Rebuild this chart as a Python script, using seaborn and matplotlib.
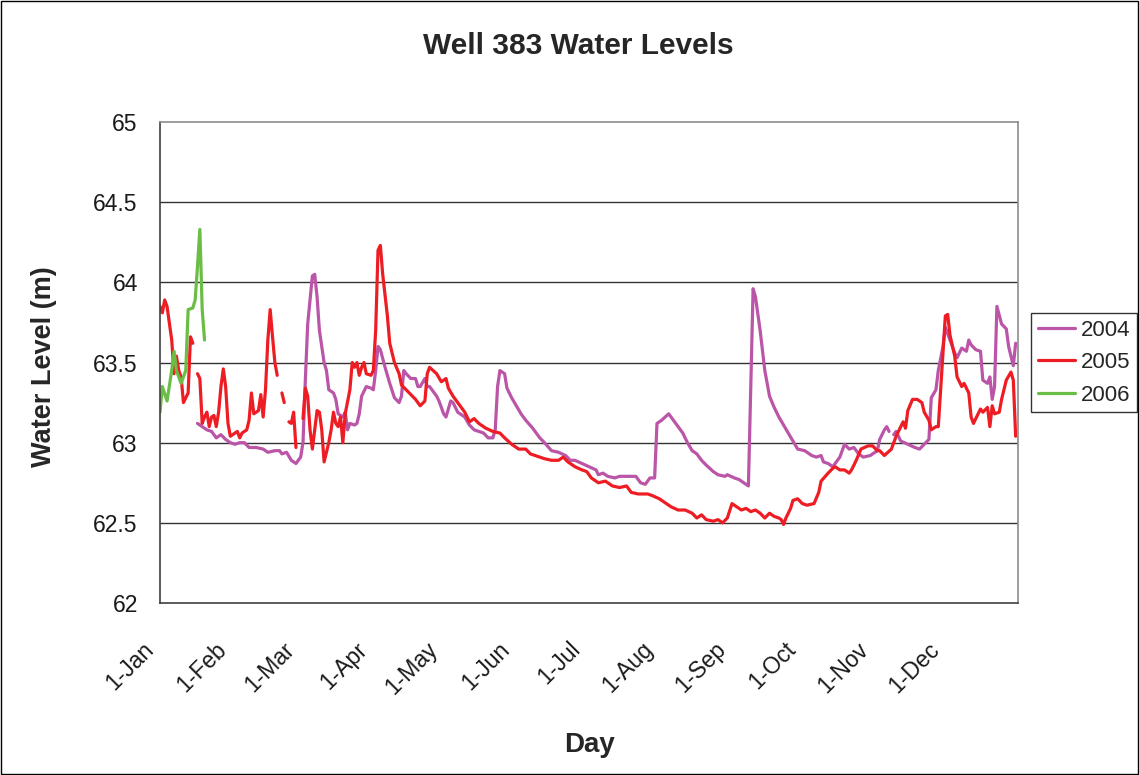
"""
Well 383 water levels, one line per year over a Jan-Dec day axis.
"""

import numpy as np
import pandas as pd
import matplotlib
matplotlib.use("Agg")
import matplotlib.pyplot as plt
import matplotlib.transforms as mtransforms
from matplotlib.lines import Line2D
from matplotlib.patches import Rectangle
import seaborn as sns

NAN = np.nan

# ──────────────────────────────────────────────────────────────────────────────
# Data (day of year, water level in m; NaN marks a gap in the record)
# ──────────────────────────────────────────────────────────────────────────────

MONTH_STARTS = [0, 31, 60, 91, 121, 152, 182, 213, 244, 274, 305, 335]
MONTH_LABELS = ["1-Jan", "1-Feb", "1-Mar", "1-Apr", "1-May", "1-Jun",
                "1-Jul", "1-Aug", "1-Sep", "1-Oct", "1-Nov", "1-Dec"]
Y_TICKS = [62, 62.5, 63, 63.5, 64, 64.5, 65]
YEARS = ["2004", "2005", "2006"]

DAYS_2004 = [
    16, 18, 20, 22, 24, 26, 28, 30, 32, 34, 36, 38, 41, 44, 46, 49, 51, 52,
    54, 56, 58, 60, 61, 62, 63, 65, 66, 67, 68, 70, 71, 72, 74, 75, 76, 78,
    79, 80, 81, 83, 84, 85, 86, 88, 90, 91, 92, 93, 94, 96, 98, 100, 102,
    103, 104, 105, 107, 109, 110, 111, 113, 114, 115, 118, 119, 121, 122,
    124, 125, 127, 130, 132, 134, 136, 138, 140, 142, 143, 144, 145, 147,
    148, 150, 152, 154, 156, 159, 162, 164, 167, 170, 173, 175, 177, 180,
    183, 186, 187, 189, 191, 194, 196, 199, 201, 203, 205, 207, 209, 211,
    212, 214, 217, 219, 221, 223, 225, 227, 229, 231, 233, 236, 238, 241,
    242, 245, 247, 249, 251, 253, 254, 256, 258, 260, 262, 264, 266, 268,
    270, 272, 275, 278, 280, 282, 283, 285, 287, 290, 292, 294, 296, 298,
    300, 303, 306, 307, 309, 310, 311, 312, 313, 314, 316, 319, 322, 324,
    326, 328, 329, 331, 332, 334, 335, 337, 339, 340, 342, 344, 345, 346,
    348, 350, 351, 353, 354, 355, 356, 357, 359, 361, 362, 364, 365,
]
LEVEL_2004 = [
    63.12, 63.10, 63.08, 63.07, 63.03, 63.05, 63.02, 63.00, 62.99, 63.00,
    63.00, 62.97, 62.97, 62.96, 62.94, 62.95, 62.95, 62.93, 62.94, 62.89,
    62.87, 62.91, 63.00, 63.39, 63.74, 64.04, 64.05, 63.91, 63.70, 63.50,
    63.45, 63.33, 63.31, 63.27, 63.18, 63.16, 63.19, 63.08, 63.12, 63.11,
    63.12, 63.18, 63.29, 63.35, 63.34, 63.33, 63.45, 63.60, 63.58, 63.47,
    63.37, 63.28, 63.25, 63.29, 63.45, 63.43, 63.40, 63.40, 63.35, 63.35,
    63.40, 63.35, 63.35, 63.29, 63.26, 63.18, 63.16, 63.26, 63.25, 63.19,
    63.16, 63.11, 63.08, 63.07, 63.06, 63.03, 63.03, 63.08, 63.35, 63.45,
    63.43, 63.34, 63.28, 63.23, 63.18, 63.14, 63.09, 63.03, 63.00, 62.95,
    62.94, 62.92, 62.89, 62.89, 62.87, 62.85, 62.83, 62.80, 62.81, 62.79,
    62.78, 62.79, 62.79, 62.79, 62.79, 62.75, 62.74, 62.78, 62.78, 63.12,
    63.14, 63.18, 63.14, 63.10, 63.06, 63.00, 62.95, 62.93, 62.89, 62.86,
    62.82, 62.80, 62.79, 62.80, 62.78, 62.77, 62.75, 62.73, 63.96, 63.91,
    63.70, 63.45, 63.29, 63.22, 63.16, 63.11, 63.06, 63.01, 62.96, 62.95,
    62.92, 62.91, 62.92, 62.88, 62.87, 62.85, 62.91, 62.99, 62.96, 62.97,
    62.93, 62.91, 62.92, 62.95, 63.02, 63.08, 63.10, 63.07, NAN, 63.05,
    63.07, 63.01, 62.99, 62.97, 62.96, 62.99, 63.02, 63.28, 63.33, 63.45,
    63.60, 63.72, 63.64, 63.56, 63.53, 63.59, 63.57, 63.64, 63.61, 63.58,
    63.57, 63.39, 63.37, 63.41, 63.27, 63.35, 63.85, 63.74, 63.71, 63.60,
    63.48, 63.62,
]

DAYS_2005 = [
    0, 1, 2, 3, 5, 6, 7, 8, 9, 10, 12, 13, 14, 15,
    16, 17, 18, 19, 20, 21, 22, 23, 24, 25, 26, 27, 28, 29, 30, 32, 33, 34,
    35, 37, 38, 39, 40, 42, 43, 44, 45, 46, 47, 48, 49, 50, 51,
    52, 53, 54,
    55, 56, 57, 58, 59,
    61, 62, 63, 64, 65, 66, 67, 68, 69, 70, 72, 73, 74, 75, 76, 77, 78, 79,
    81, 82, 83, 84, 85, 86, 87, 88, 90, 91, 92, 93, 94, 95, 97, 98, 100,
    102, 103, 105, 107, 109, 111, 113, 114, 115, 118, 120, 122, 123, 125,
    127, 130, 132, 134, 136, 139, 142, 145, 147, 150, 153, 156, 158, 162,
    164, 167, 170, 172, 174, 177, 180, 182, 184, 187, 190, 193, 196, 199,
    201, 204, 208, 210, 213, 216, 218, 221, 224, 227, 229, 231, 233, 236,
    238, 240, 242, 244, 245, 248, 250, 252, 254, 256, 258, 260, 262, 264,
    265, 266, 267, 269, 270, 272, 274, 276, 279, 281, 282, 285, 287, 288,
    290, 292, 294, 295, 297, 299, 302, 304, 306, 307, 309, 312, 314, 316,
    317, 318, 319, 321, 323, 325, 326, 328, 329, 331, 332, 333, 335, 336,
    337, 339, 340, 342, 343, 345, 346, 347, 349, 350, 351, 353, 354, 355,
    356, 358, 359, 361, 363, 364, 365,
]
LEVEL_2005 = [
    63.85, 63.81, 63.89, 63.85, 63.64, 63.43, 63.54, 63.45, 63.41, 63.25,
    63.31, 63.66, 63.62, NAN,
    63.43, 63.40, 63.12, 63.16, 63.19, 63.10, 63.16, 63.17, 63.10, 63.19,
    63.35, 63.46, 63.35, 63.12, 63.04, 63.06, 63.07, 63.03, 63.06, 63.08,
    63.14, 63.31, 63.18, 63.20, 63.30, 63.16, 63.33, 63.64, 63.83, 63.66,
    63.50, 63.42, NAN,
    63.31, 63.25, NAN,
    63.13, 63.12, 63.19, 62.97, NAN,
    63.15, 63.34, 63.29, 63.08, 62.96, 63.08, 63.20, 63.19, 63.08, 62.88,
    63.00, 63.08, 63.19, 63.12, 63.10, 63.16, 63.00, 63.18, 63.33, 63.50,
    63.47, 63.50, 63.42, 63.47, 63.50, 63.43, 63.42, 63.45, 63.70, 64.20,
    64.23, 64.05, 63.79, 63.62, 63.50, 63.43, 63.36, 63.33, 63.30, 63.27,
    63.23, 63.26, 63.43, 63.47, 63.43, 63.38, 63.40, 63.34, 63.29, 63.25,
    63.19, 63.13, 63.15, 63.12, 63.09, 63.07, 63.06, 63.03, 62.99, 62.96,
    62.96, 62.93, 62.91, 62.90, 62.89, 62.89, 62.91, 62.88, 62.85, 62.83,
    62.82, 62.78, 62.75, 62.76, 62.73, 62.72, 62.73, 62.69, 62.68, 62.68,
    62.67, 62.65, 62.62, 62.60, 62.58, 62.58, 62.56, 62.53, 62.55, 62.52,
    62.51, 62.52, 62.50, 62.53, 62.62, 62.61, 62.58, 62.59, 62.57, 62.58,
    62.56, 62.53, 62.56, 62.54, 62.53, 62.52, 62.49, 62.53, 62.59, 62.64,
    62.65, 62.62, 62.61, 62.62, 62.69, 62.76, 62.81, 62.84, 62.85, 62.83,
    62.83, 62.81, 62.83, 62.89, 62.96, 62.98, 62.98, 62.95, 62.95, 62.92,
    62.96, 63.04, 63.10, 63.13, 63.09, 63.20, 63.27, 63.27, 63.25, 63.19,
    63.14, 63.08, 63.10, 63.10, 63.33, 63.79, 63.80, 63.67, 63.54, 63.41,
    63.35, 63.37, 63.31, 63.16, 63.12, 63.18, 63.21, 63.19, 63.22, 63.10,
    63.23, 63.18, 63.19, 63.27, 63.39, 63.44, 63.39, 63.04,
]

DAYS_2006 = [0, 1, 3, 5, 6, 7, 9, 11, 12, 14, 15, 16, 17, 18, 19]
LEVEL_2006 = [63.19, 63.35, 63.26, 63.45, 63.57, 63.45, 63.37, 63.45,
              63.83, 63.84, 63.89, 64.10, 64.33, 63.83, 63.64]

COLORS = {"2004": "#BA55A8", "2005": "#EE1D24", "2006": "#6ABD45"}
FONT = ["Liberation Sans", "DejaVu Sans"]


# ──────────────────────────────────────────────────────────────────────────────
# Helpers
# ──────────────────────────────────────────────────────────────────────────────

def build_frame():
    """Long table with a segment id per year so gaps stay unconnected."""
    frames = []
    for year, days, levels in [("2004", DAYS_2004, LEVEL_2004),
                               ("2005", DAYS_2005, LEVEL_2005),
                               ("2006", DAYS_2006, LEVEL_2006)]:
        lv = np.asarray(levels, dtype=float)
        df = pd.DataFrame({
            "day": days,
            "level": lv,
            "year": year,
            "seg": np.cumsum(np.isnan(lv)),
        })
        frames.append(df.dropna())
    return pd.concat(frames, ignore_index=True)


def plot_levels(df):
    W, H = 1140, 775
    fig = plt.figure(figsize=(W / 100, H / 100), dpi=100)
    ax = fig.add_axes([160 / W, 1 - 603 / H, 858 / W, 481 / H])

    sns.lineplot(data=df, x="day", y="level", hue="year", units="seg",
                 estimator=None, hue_order=YEARS, palette=COLORS,
                 lw=2.3, legend=False, ax=ax)

    ax.set_xlim(0, 366)
    ax.set_ylim(62, 65)
    ax.set_xticks(MONTH_STARTS)
    ax.set_xticklabels(MONTH_LABELS, rotation=45, ha="right",
                       rotation_mode="anchor")
    ax.set_yticks(Y_TICKS)
    ax.set_yticklabels([f"{v:g}" for v in Y_TICKS])
    ax.tick_params(axis="both", direction="out", length=6, width=1,
                   color="#404040", labelsize=16.5, labelcolor="#1a1a1a")
    ax.tick_params(axis="y", pad=10)
    ax.tick_params(axis="x", pad=6)

    # push the slanted month labels down-left, like the spreadsheet does
    shift = mtransforms.ScaledTranslation(-0.18, -0.18, fig.dpi_scale_trans)
    for label in ax.xaxis.get_majorticklabels():
        label.set_transform(label.get_transform() + shift)

    ax.grid(False)
    for v in Y_TICKS[1:-1]:
        ax.axhline(v, color="#333333", lw=1, zorder=0)
    for side in ["top", "right"]:
        ax.spines[side].set_color("#8c8c8c")
        ax.spines[side].set_linewidth(1.2)
    for side in ["left", "bottom"]:
        ax.spines[side].set_color("#404040")
        ax.spines[side].set_linewidth(1.2)

    ax.set_xlabel("Day", fontsize=20, fontweight="bold")
    ax.xaxis.set_label_coords(0.501, -0.268)
    ax.xaxis.label.set_va("top")
    ax.set_ylabel("Water Level (m)", fontsize=19.5, fontweight="bold")
    ax.yaxis.set_label_coords(-0.12, 0.492)

    fig.text(578 / W, 1 - 46 / H, "Well 383 Water Levels", ha="center",
             va="center", fontsize=21.5, fontweight="bold")

    handles = [Line2D([], [], color=COLORS[y], lw=2.3) for y in YEARS]
    leg = ax.legend(handles, YEARS, loc="upper left",
                    bbox_to_anchor=(1031 / W, 1 - 313 / H),
                    bbox_transform=fig.transFigure, borderaxespad=0,
                    fontsize=16, frameon=True, fancybox=False,
                    handlelength=1.7, handletextpad=0.25,
                    labelspacing=0.52, borderpad=0.3)
    leg.get_frame().set_edgecolor("#000000")
    leg.get_frame().set_linewidth(1)

    # chart-area border
    fig.patches.append(Rectangle((0.0005, 0.001), 0.998, 0.998,
                                 transform=fig.transFigure, fill=False,
                                 edgecolor="#000000", lw=1))

    fig.savefig("out.png", dpi=100)
    plt.close(fig)


def main():
    sns.set_style("white")
    plt.rcParams["font.family"] = FONT
    df = build_frame()
    plot_levels(df)


if __name__ == "__main__":
    main()
